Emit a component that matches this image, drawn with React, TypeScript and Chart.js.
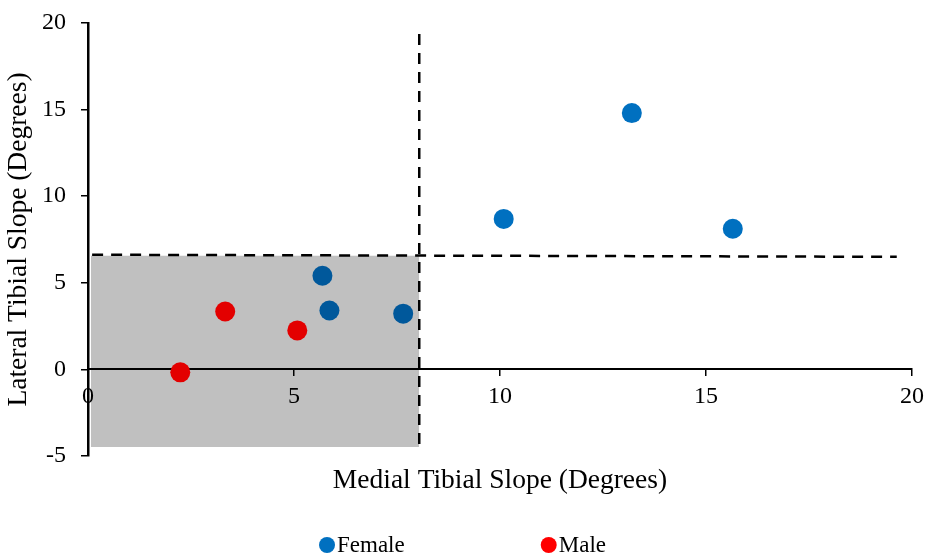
import React, { useEffect, useRef } from "react";
import { Chart, registerables } from "chart.js";

Chart.register(...registerables);

// ---- data ----
const FEMALE_X = [13.2, 10.09, 15.65, 5.69, 5.86, 7.65];
const FEMALE_Y = [14.8, 8.69, 8.12, 5.41, 3.4, 3.22];
const MALE_X = [3.33, 5.08, 2.24];
const MALE_Y = [3.34, 2.25, -0.17];
const BOX_X = [0.07, 8.04];
const BOX_Y = [-4.48, 6.56];
const VLINE_X = [8.04, 8.04];
const VLINE_Y = [-4.3, 19.55];
const HLINE_X = [0.1, 19.63];
const HLINE_Y = [6.62, 6.5];
const X_RANGE = [0, 20];
const Y_RANGE = [-5, 20];
const TICK_STEP = 5;

const FONT = "'Liberation Serif', 'Times New Roman', serif";
const FEMALE_COLOR = "#0070C0";
const FEMALE_DARK = "#00589B";
const MALE_COLOR = "#FF0000";
const MALE_DARK = "#E30000";

const inBox = (x: number, y: number) =>
  x >= BOX_X[0] && x <= BOX_X[1] && y >= BOX_Y[0] && y <= BOX_Y[1];

const toPts = (xs: number[], ys: number[]) => xs.map((x, i) => ({ x, y: ys[i] }));

const legendPlugin = {
  id: "customLegend",
  afterDraw(chart: any) {
    const ctx = chart.ctx;
    const items = chart.data.datasets.filter((d: any) => d.legendColor);
    ctx.save();
    ctx.font = `23px ${FONT}`;
    ctx.textBaseline = "middle";
    ctx.textAlign = "left";
    const r = 8;
    const gapText = 2;
    const gapItem = 136;
    const widths = items.map((d: any) => r * 2 + gapText + ctx.measureText(d.label).width);
    const total = widths.reduce((a: number, b: number) => a + b, 0) + gapItem * (items.length - 1);
    let x = chart.width / 2 - total / 2;
    const y = 545;
    items.forEach((d: any, i: number) => {
      ctx.fillStyle = d.legendColor;
      ctx.beginPath();
      ctx.arc(x + r, y, r, 0, Math.PI * 2);
      ctx.fill();
      ctx.fillStyle = "#000";
      ctx.fillText(d.label, x + r * 2 + gapText, y + 1);
      x += widths[i] + gapItem;
    });
    ctx.restore();
  },
};

export default function App() {
  const ref = useRef<HTMLCanvasElement | null>(null);
  useEffect(() => {
    if (!ref.current) return;
    const female = toPts(FEMALE_X, FEMALE_Y);
    const male = toPts(MALE_X, MALE_Y);
    const chart = new Chart(ref.current, {
      type: "scatter",
      data: {
        datasets: [
          {
            label: "Female",
            data: female,
            legendColor: FEMALE_COLOR,
            backgroundColor: female.map((p) => (inBox(p.x, p.y) ? FEMALE_DARK : FEMALE_COLOR)),
            borderWidth: 0,
            pointRadius: 10,
            order: 1,
          } as any,
          {
            label: "Male",
            data: male,
            legendColor: MALE_COLOR,
            backgroundColor: male.map((p) => (inBox(p.x, p.y) ? MALE_DARK : MALE_COLOR)),
            borderWidth: 0,
            pointRadius: 10,
            order: 1,
          } as any,
          {
            type: "line",
            label: "vline",
            data: toPts(VLINE_X, VLINE_Y),
            showLine: true,
            borderColor: "#000",
            borderWidth: 2.5,
            borderDash: [11, 8],
            pointRadius: 0,
            fill: false,
            order: 2,
          } as any,
          {
            type: "line",
            label: "hline",
            data: toPts(HLINE_X, HLINE_Y),
            showLine: true,
            borderColor: "#000",
            borderWidth: 2.5,
            borderDash: [11, 8],
            pointRadius: 0,
            fill: false,
            order: 2,
          } as any,
          {
            type: "line",
            label: "box",
            data: toPts(BOX_X, [BOX_Y[1], BOX_Y[1]]),
            showLine: true,
            borderWidth: 0,
            borderColor: "rgba(0,0,0,0)",
            backgroundColor: "#C0C0C0",
            pointRadius: 0,
            fill: { value: BOX_Y[0] },
            order: 3,
          } as any,
        ],
      },
      options: {
        responsive: false,
        animation: false,
        events: [],
        layout: { padding: { left: 0, right: 13, top: 23, bottom: 57 } },
        plugins: {
          legend: { display: false },
          tooltip: { enabled: false },
          filler: { drawTime: "beforeDraw" } as any,
          title: {
            display: true,
            fullSize: false,
            position: "bottom",
            text: "Medial Tibial Slope (Degrees)",
            color: "#000",
            font: { family: FONT, size: 27.5, weight: "normal" as any },
            padding: { top: 8, bottom: 0 },
          },
        },
        scales: {
          x: {
            type: "linear",
            position: { y: 0 } as any,
            min: X_RANGE[0],
            max: X_RANGE[1],
            afterFit: (s: any) => {
              s.paddingLeft = 0;
              s.paddingRight = 0;
            },
            ticks: {
              stepSize: TICK_STEP,
              color: "#000",
              font: { family: FONT, size: 24 },
              padding: 7,
              maxRotation: 0,
            },
            grid: {
              display: true,
              drawOnChartArea: false,
              drawTicks: true,
              tickLength: 6,
              color: "#000",
              lineWidth: 1.5,
            },
            border: { display: true, color: "#000", width: 2 },
          },
          y: {
            type: "linear",
            position: "left",
            min: Y_RANGE[0],
            max: Y_RANGE[1],
            afterFit: (s: any) => {
              s.width = 88;
              s.paddingTop = 0;
              s.paddingBottom = 0;
            },
            ticks: {
              stepSize: TICK_STEP,
              color: "#000",
              font: { family: FONT, size: 24 },
              padding: 15,
            },
            grid: {
              display: true,
              drawOnChartArea: false,
              drawTicks: true,
              tickLength: 7,
              color: "#000",
              lineWidth: 1.5,
            },
            border: { display: true, color: "#000", width: 2.5 },
            title: {
              display: true,
              text: "Lateral Tibial Slope (Degrees)",
              color: "#000",
              font: { family: FONT, size: 27.5 },
              padding: { top: 2, bottom: 0 },
            },
          },
        },
      },
      plugins: [legendPlugin],
    });
    return () => chart.destroy();
  }, []);
  return (
    <div style={{ position: "fixed", left: 0, top: 0, width: 925, height: 554, background: "#fff" }}>
      <canvas ref={ref} width={925} height={554} />
    </div>
  );
}
